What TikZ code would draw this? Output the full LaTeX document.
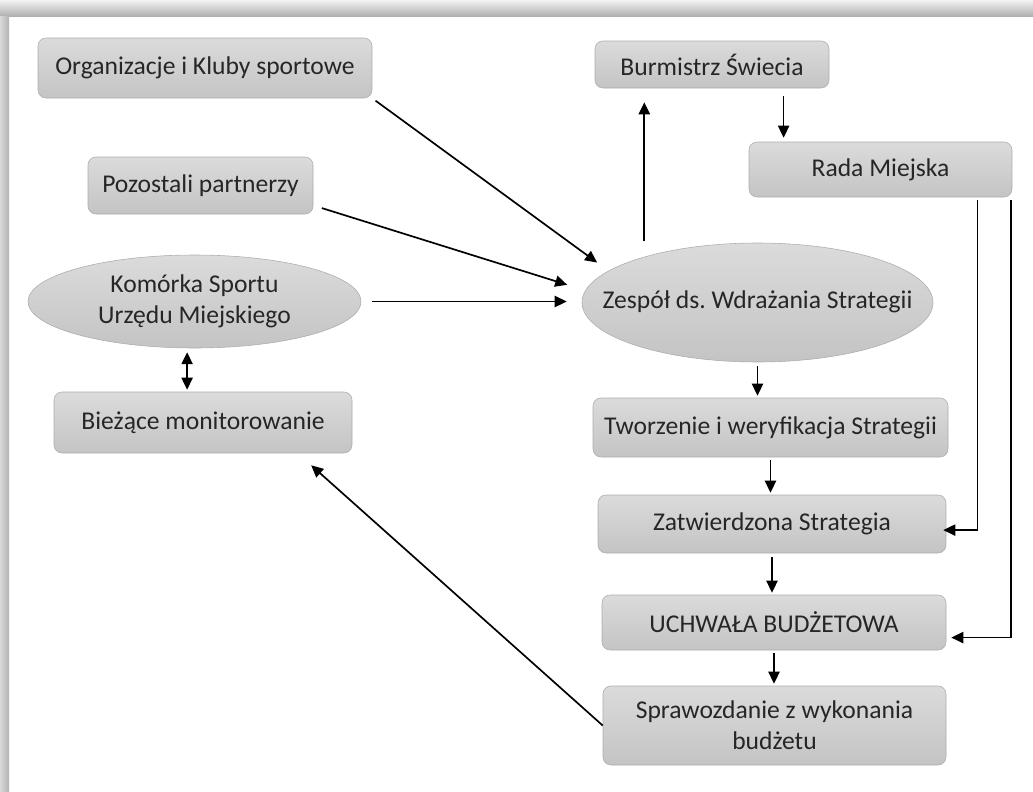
\documentclass[tikz,border=0pt]{standalone}
\usepackage{fontspec}
\setmainfont{Carlito}
\usetikzlibrary{shapes.geometric,arrows.meta}
\frenchspacing

\newlength{\unitpx}
\setlength{\unitpx}{0.025cm}

\definecolor{boxtop}{HTML}{DBDBDB}
\definecolor{boxbot}{HTML}{C4C4C4}
\definecolor{boxline}{HTML}{ACACAC}
\definecolor{boxtext}{HTML}{262626}

\newcommand{\ovaltext}[1]{\makebox[0pt]{\begin{tabular}{@{}c@{}}#1\end{tabular}}}

\begin{document}
\begin{tikzpicture}[x=0.025cm, y=-0.025cm]
\tikzset{ >={Triangle[length=3mm,width=2.8mm]},
  box/.style={draw=boxline, rounded corners=8\unitpx, top color=boxtop, bottom color=boxbot,
    text=boxtext, inner sep=0pt, align=center, font=\fontsize{18.2}{22}\selectfont},
  oval/.style={box, ellipse, sharp corners},
  link/.style={->, line width=1.2pt, shorten <=3\unitpx, shorten >=2\unitpx},
}

\useasboundingbox (0,0) rectangle (1033,791);

% frame shadow
\shade [top color=gray!10, bottom color=gray!62] (0,0) rectangle (1033,16);
\shade [left color=gray!30, right color=gray!60] (0,16) rectangle (9,791);

% left column
\node [box, minimum width=334\unitpx, minimum height=60\unitpx] (org) at (205,68) {Organizacje i Kluby sportowe};
\node [box, minimum width=225\unitpx, minimum height=57\unitpx] (poz) at (200.5,185.5) {Pozostali partnerzy};
\node [oval, minimum width=333\unitpx, minimum height=93\unitpx] (kom) at (194.5,301.5) {\ovaltext{Komórka Sportu\\Urzędu Miejskiego}};
\node [box, minimum width=298\unitpx, minimum height=61\unitpx] (bie) at (203,422.5) {Bieżące monitorowanie};

% right column
\node [box, minimum width=234\unitpx, minimum height=47\unitpx] (burm) at (712,64.5) {Burmistrz Świecia};
\node [box, minimum width=263\unitpx, minimum height=55\unitpx] (rada) at (880.5,169.5) {Rada Miejska};
\node [oval, minimum width=351\unitpx, minimum height=119\unitpx] (zesp) at (757.5,302.5) {\ovaltext{Zespół ds. Wdrażania Strategii}};
\node [box, minimum width=355\unitpx, minimum height=59\unitpx] (twor) at (770.5,427.5) {Tworzenie i weryfikacja Strategii};
\node [box, minimum width=348\unitpx, minimum height=58\unitpx] (zatw) at (772,524) {Zatwierdzona Strategia};
\node [box, minimum width=344\unitpx, minimum height=55\unitpx] (uchw) at (774,622.5) {UCHWAŁA BUDŻETOWA};
\node [box, minimum width=343\unitpx, minimum height=79\unitpx] (spraw) at (774.5,725.5) {Sprawozdanie z wykonania\\budżetu};

% inputs to the team
\draw [link, shorten <=4\unitpx, shorten >=14\unitpx] (org.south east) -- (zesp.168);
\draw [link, shorten <=9\unitpx, shorten >=19\unitpx] (poz.-10) -- (zesp.176);
\draw [link, shorten <=11\unitpx, shorten >=15\unitpx] (kom.east) -- (kom.east -| zesp.west);
\draw [link, <->, shorten <=4\unitpx] (kom.261) -- (kom.261 |- bie.north);

% top loop
\draw [link, shorten <=16\unitpx, shorten >=14\unitpx] (zesp.158) -- (zesp.158 |- burm.south);
\draw [link, shorten <=8\unitpx, shorten >=4\unitpx] (rada.164 |- burm.south) -- (rada.164);

% main chain
\draw [link, shorten <=4\unitpx] (zesp.south) -- (zesp.south |- twor.north);
\draw [link] (twor.south) -- (twor.south |- zatw.north);
\draw [link, shorten <=4\unitpx] (zatw.south) -- (zatw.south |- uchw.north);
\draw [link] (uchw.south) -- (uchw.south |- spraw.north);

% council approvals
\draw [link, shorten >=-3\unitpx] (rada.-16) |- (zatw.-2);
\draw [link, shorten >=5\unitpx] (rada.-12) |- (uchw.-5);

% feedback
\draw [link, shorten <=0pt, shorten >=18\unitpx] (spraw.west) -- (bie.-18);

\end{tikzpicture}
\end{document}
